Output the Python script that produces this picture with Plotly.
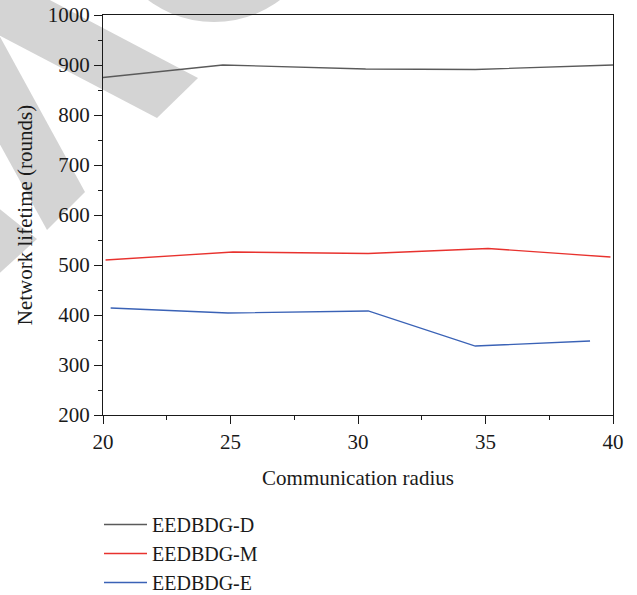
import plotly.graph_objects as go

# Network lifetime vs. communication radius for three EEDBDG variants
radius_d = [20.0, 24.7, 30.3, 34.6, 40.0]
lifetime_d = [875, 900, 892, 891, 900]

radius_m = [20.1, 25.1, 30.4, 35.1, 39.9]
lifetime_m = [510, 526, 523, 533, 516]

radius_e = [20.3, 24.9, 30.4, 34.6, 39.1]
lifetime_e = [414, 404, 408, 338, 348]

series_names = ["EEDBDG-D", "EEDBDG-M", "EEDBDG-E"]
series_colors = ["#5a5a5a", "#e8322e", "#3a62b6"]

x_ticks = [20, 25, 30, 35, 40]
y_ticks = [200, 300, 400, 500, 600, 700, 800, 900, 1000]

W, H = 637, 595
ML, MR, MT, MB = 103, 24, 15, 180
PW, PH = W - ML - MR, H - MT - MB

FONT = "Liberation Serif"


def px(x, y):
    """Pixel position on the page -> paper coordinates."""
    return (x - ML) / PW, (H - MB - y) / PH


def poly_path(points):
    pts = [px(x, y) for x, y in points]
    return "M " + " L ".join(f"{a:.4f},{b:.4f}" for a, b in pts) + " Z"


fig = go.Figure()

for xs, ys, name, color in zip(
    [radius_d, radius_m, radius_e],
    [lifetime_d, lifetime_m, lifetime_e],
    series_names,
    series_colors,
):
    fig.add_trace(
        go.Scatter(
            x=xs, y=ys, mode="lines", name=name,
            line=dict(color=color, width=1.3),
        )
    )

# light grey background stamp
stamp = "#d4d4d4"
shapes = []
for pts in [
    [(-30, -42), (198, 78), (157, 118), (-30, 20)],
    [(-30, -18), (85, 192), (47, 230), (-30, 90)],
    [(-30, 185), (37, 239), (-30, 300)],
]:
    shapes.append(dict(type="path", path=poly_path(pts), xref="paper", yref="paper",
                       fillcolor=stamp, line=dict(width=0), layer="below"))
cx0, cy0 = px(214 - 110, -88 - 110)
cx1, cy1 = px(214 + 110, -88 + 110)
shapes.append(dict(type="circle", xref="paper", yref="paper",
                   x0=cx0, x1=cx1, y0=cy0, y1=cy1,
                   fillcolor=stamp, line=dict(width=0), layer="below"))

axis_common = dict(
    showgrid=False, zeroline=False,
    showline=True, linecolor="#1a1a1a", linewidth=1.3, mirror=True,
    ticks="outside", ticklen=8, tickwidth=1.2, tickcolor="#1a1a1a",
    tickfont=dict(family=FONT, size=21, color="#1a1a1a"),
)

fig.update_layout(
    width=W, height=H,
    margin=dict(l=ML, r=MR, t=MT, b=MB, pad=0, autoexpand=False),
    paper_bgcolor="white", plot_bgcolor="white",
    shapes=shapes,
    xaxis=dict(
        range=[20, 40], tickvals=x_ticks, ticktext=[str(v) for v in x_ticks],
        minor=dict(dtick=2.5, ticks="outside", ticklen=4, tickcolor="#1a1a1a", showgrid=False),
        title=dict(text="Communication radius", font=dict(family=FONT, size=21, color="#1a1a1a"),
                   standoff=16),
        **axis_common,
    ),
    yaxis=dict(
        range=[200, 1000], tickvals=y_ticks, ticktext=[str(v) for v in y_ticks],
        minor=dict(dtick=50, ticks="outside", ticklen=4, tickcolor="#1a1a1a", showgrid=False),
        title=dict(text="Network lifetime (rounds)", font=dict(family=FONT, size=21, color="#1a1a1a"),
                   standoff=9),
        **axis_common,
    ),
    legend=dict(
        x=px(99, 0)[0], y=px(0, 505)[1], xanchor="left", yanchor="top",
        font=dict(family=FONT, size=20, color="#1a1a1a"),
        bgcolor="rgba(0,0,0,0)", tracegroupgap=0, itemwidth=43,
    ),
    showlegend=True,
)

fig.write_html("out.html")
